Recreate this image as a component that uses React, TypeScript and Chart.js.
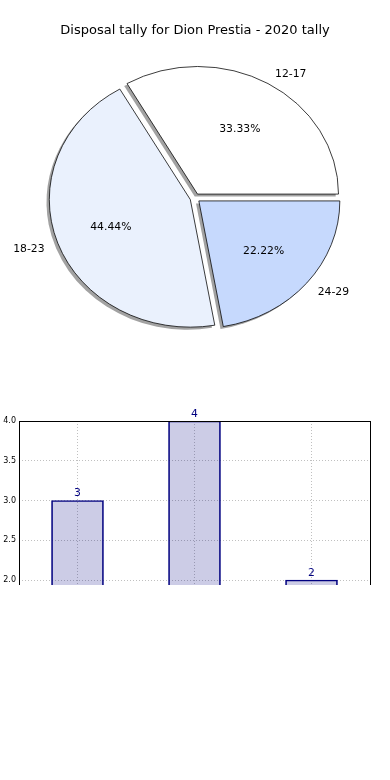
import React, { useEffect, useRef } from 'react';
import { Chart, registerables } from 'chart.js';

Chart.register(...registerables);

// ---- data ----
const TITLE = 'Disposal tally for Dion Prestia - 2020 tally';
const ageGroups = ['12-17', '18-23', '24-29'];
const disposalCounts = [3, 4, 2];
const pieColors = ['#ffffff', '#eaf1fd', '#c6d9fd'];
const barValues = [3, 4, 2];
const yTickStep = 0.5;
const yMin = 0;
const yMax = 4;

// ---- styling constants ----
const FONT = '"DejaVu Sans", sans-serif';
const SY = 0.905; // vertical squash of the pie (ellipse)
const EXPLODE = 5;
const SHX = -2.8;
const SHY = 2.8;
const SHADOW = '#a2a2a2';
const LABEL_DY = 1.5;

const total = disposalCounts.reduce((a, b) => a + b, 0);
const percentLabels = disposalCounts.map((v) => ((v / total) * 100).toFixed(2) + '%');

// Chart.js goes clockwise from 3 o'clock (rotation 90); matplotlib goes counter-clockwise.
const pieOrder = ageGroups.map((_, i) => ageGroups.length - 1 - i);

const piePlugin = {
  id: 'ellipsePie',
  beforeDatasetsDraw(chart: any) {
    const meta = chart.getDatasetMeta(0);
    const arcs = meta.data as any[];
    if (!arcs.length) return;
    const ctx = chart.ctx as CanvasRenderingContext2D;
    const cx = arcs[0].x;
    const cy = arcs[0].y;
    ctx.save();
    ctx.translate(cx, cy);
    ctx.scale(1, SY);
    ctx.translate(-cx, -cy);
    arcs.forEach((arc) => {
      const mid = (arc.startAngle + arc.endAngle) / 2;
      ctx.save();
      ctx.translate(Math.cos(mid) * EXPLODE + SHX, Math.sin(mid) * EXPLODE + SHY);
      ctx.beginPath();
      ctx.moveTo(cx, cy);
      ctx.arc(cx, cy, arc.outerRadius, arc.startAngle, arc.endAngle);
      ctx.closePath();
      ctx.fillStyle = SHADOW;
      ctx.fill();
      ctx.restore();
    });
    arcs.forEach((arc) => {
      const mid = (arc.startAngle + arc.endAngle) / 2;
      ctx.save();
      ctx.translate(Math.cos(mid) * EXPLODE, Math.sin(mid) * EXPLODE);
      arc.draw(ctx);
      ctx.restore();
    });
    ctx.restore();
    return false;
  },
  afterDraw(chart: any) {
    const meta = chart.getDatasetMeta(0);
    const arcs = meta.data as any[];
    if (!arcs.length) return;
    const ctx = chart.ctx as CanvasRenderingContext2D;
    const labels = chart.data.labels as string[];
    const pcts = (chart.data.datasets[0] as any).pctLabels as string[];
    ctx.save();
    ctx.font = `10.8px ${FONT}`;
    ctx.fillStyle = '#000';
    ctx.textBaseline = 'middle';
    arcs.forEach((arc, i) => {
      const cx = arc.x;
      const cy = arc.y;
      const R = arc.outerRadius;
      const mid = (arc.startAngle + arc.endAngle) / 2;
      const c = Math.cos(mid);
      const s = Math.sin(mid);
      ctx.textAlign = 'center';
      const rp = EXPLODE + 0.6 * R;
      ctx.fillText(pcts[i], cx + rp * c, cy + rp * s * SY + LABEL_DY);
      ctx.textAlign = c >= 0 ? 'left' : 'right';
      const rl = EXPLODE + 1.1 * R;
      ctx.fillText(labels[i], cx + rl * c, cy + rl * s * SY + LABEL_DY);
    });
    ctx.restore();
  },
};

const barPlugin = {
  id: 'barExtras',
  afterDatasetsDraw(chart: any) {
    const ctx = chart.ctx as CanvasRenderingContext2D;
    const meta = chart.getDatasetMeta(0);
    const vals = chart.data.datasets[0].data as number[];
    ctx.save();
    ctx.font = `10.8px ${FONT}`;
    ctx.fillStyle = '#000080';
    ctx.textAlign = 'center';
    ctx.textBaseline = 'alphabetic';
    (meta.data as any[]).forEach((bar, i) => {
      ctx.fillText(String(vals[i]), bar.x, bar.y - 4.5);
    });
    const a = chart.chartArea;
    ctx.strokeStyle = '#000';
    ctx.lineWidth = 1;
    ctx.strokeRect(Math.round(a.left) + 0.5, Math.round(a.top) + 0.5, Math.round(a.right - a.left), Math.round(a.bottom - a.top));
    ctx.restore();
  },
};

function PieChart() {
  const ref = useRef<HTMLCanvasElement>(null);
  useEffect(() => {
    if (!ref.current) return;
    const chart = new Chart(ref.current, {
      type: 'pie',
      data: {
        labels: pieOrder.map((i) => ageGroups[i]),
        datasets: [
          {
            data: pieOrder.map((i) => disposalCounts[i]),
            backgroundColor: pieOrder.map((i) => pieColors[i]),
            borderColor: '#000',
            borderWidth: 0.8,
            clip: false,
            pctLabels: pieOrder.map((i) => percentLabels[i]),
          } as any,
        ],
      },
      options: {
        animation: false,
        responsive: false,
        rotation: 90,
        radius: 141,
        layout: { padding: { top: 0, bottom: 42.6, left: 0, right: 0 } },
        plugins: {
          legend: { display: false },
          tooltip: { enabled: false },
          title: {
            display: true,
            text: TITLE,
            color: '#000',
            font: { family: FONT, size: 13, weight: 'normal' },
            padding: { top: 23, bottom: 0 },
          },
        },
      } as any,
      plugins: [piePlugin],
    });
    return () => chart.destroy();
  }, []);
  return <canvas ref={ref} width={390} height={400} style={{ position: 'absolute', left: 0, top: 0 }} />;
}

function BarChart() {
  const ref = useRef<HTMLCanvasElement>(null);
  useEffect(() => {
    if (!ref.current) return;
    const chart = new Chart(ref.current, {
      type: 'bar',
      data: {
        labels: ageGroups,
        datasets: [
          {
            data: barValues,
            backgroundColor: 'rgba(0,0,128,0.2)',
            borderColor: '#000080',
            borderWidth: 1,
            barThickness: 52,
          },
        ],
      },
      options: {
        animation: false,
        responsive: false,
        layout: { padding: { top: 21, right: 20, bottom: 20, left: 0 } },
        plugins: { legend: { display: false }, tooltip: { enabled: false } },
        scales: {
          x: {
            grid: { offset: false, color: '#c0c0c0', lineWidth: 1, drawTicks: false },
            border: { display: false, dash: [1, 2] },
            ticks: { display: false },
            afterFit: (s: any) => {
              s.height = 0;
            },
          },
          y: {
            min: yMin,
            max: yMax,
            ticks: {
              stepSize: yTickStep,
              callback: (v: any) => Number(v).toFixed(1),
              font: { family: FONT, size: 8 },
              color: '#000',
              padding: 3,
            },
            grid: { color: '#c0c0c0', lineWidth: 1, drawTicks: false },
            border: { display: false, dash: [1, 2] },
            afterFit: (s: any) => {
              s.width = 19;
            },
          },
        },
      } as any,
      plugins: [barPlugin],
    });
    return () => chart.destroy();
  }, []);
  return (
    <div style={{ position: 'absolute', left: 0, top: 400, width: 390, height: 185, overflow: 'hidden' }}>
      <canvas ref={ref} width={390} height={359} style={{ display: 'block' }} />
    </div>
  );
}

export default function App() {
  return (
    <div style={{ position: 'absolute', left: 0, top: 0, width: 390, height: 780, background: '#fff' }}>
      <PieChart />
      <BarChart />
    </div>
  );
}
